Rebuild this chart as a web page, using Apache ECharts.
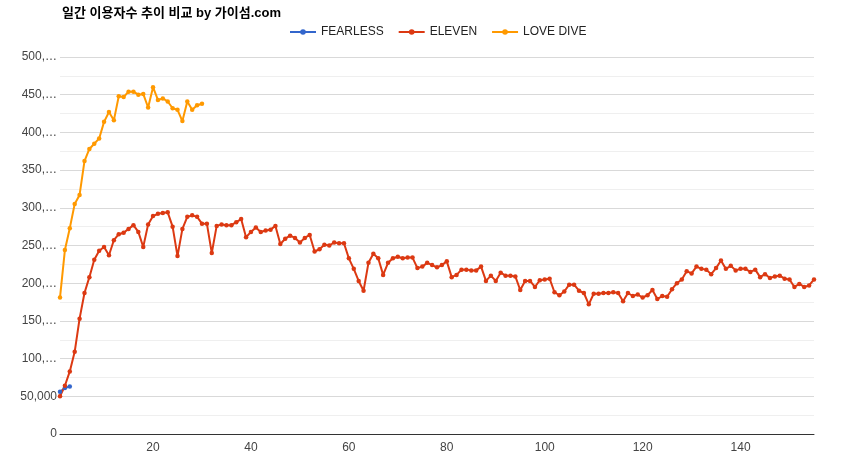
<!DOCTYPE html>
<html>
<head>
<meta charset="utf-8">
<script src="https://cdn.jsdelivr.net/npm/echarts@6/dist/echarts.min.js"></script>
<style>
html,body{margin:0;padding:0;background:#fff;}
#c{width:850px;height:464px;}
</style>
</head>
<body>
<div id="c"></div>
<script>
const title = '일간 이용자수 추이 비교 by 가이섬.com';
const days = Array.from({length: 155}, (_, i) => String(i + 1));
const fearless = [56000, 61000, 63000];
const eleven = [
  50, 64, 83, 109, 153, 187, 208, 231, 243, 248,
  237, 257, 265, 267, 272, 277, 268, 248, 278, 289,
  292, 293, 294, 275, 236, 272, 288, 290, 288, 279,
  279, 240, 276, 278, 277, 277, 281, 285, 261, 268,
  274, 268, 270, 271, 276, 252, 259, 263, 260, 254,
  260, 264, 242, 245, 251, 250, 254, 253, 253, 233,
  219, 203, 190, 227, 239, 233, 211, 227, 233, 235,
  233, 234, 234, 220, 222, 227, 224, 221, 224, 229,
  208, 211, 218, 218, 217, 217, 222, 203, 210, 203,
  214, 210, 210, 209, 191, 203, 203, 195, 204, 205,
  206, 188, 184, 189, 198, 198, 190, 187, 172, 186,
  186, 187, 187, 188, 187, 176, 187, 183, 185, 181,
  184, 191, 179, 183, 182, 192, 200, 205, 216, 213,
  222, 219, 218, 212, 220, 230, 219, 223, 217, 219,
  219, 215, 218, 208, 212, 207, 209, 210, 206, 205,
  195, 199, 195, 197, 205
].map(v => v * 1000);
const loveDive = [
  181, 244, 273, 305, 317, 362, 378, 385, 392, 414,
  427, 416, 448, 447, 454, 454, 450, 451, 433, 460,
  443, 445, 441, 432, 430, 415, 441, 430, 436, 438
].map(v => v * 1000);
const yTickValues = [0, 50000, 100000, 150000, 200000, 250000, 300000, 350000, 400000, 450000, 500000];
const yTickLabels = ['0', '50,000', '100,…', '150,…', '200,…', '250,…', '300,…', '350,…', '400,…', '450,…', '500,…'];
const xTickLabels = ['20', '40', '60', '80', '100', '120', '140'];

const chart = echarts.init(document.getElementById('c'), null, {renderer: 'canvas'});
const mk = (name, data, color) => ({
  name, type: 'line', data, color,
  symbol: 'circle', symbolSize: 4.5, showSymbol: true, showAllSymbol: true,
  lineStyle: {width: 2, color},
  itemStyle: {color},
  animation: false
});
chart.setOption({
  animation: false,
  title: {
    text: title, left: 57, top: 2,
    textStyle: {fontFamily: 'Arial, "Noto Sans CJK KR", sans-serif', fontSize: 13, fontWeight: 'bold', color: '#000'}
  },
  legend: {
    top: 21, left: 284, itemGap: 14, itemWidth: 26, itemHeight: 7,
    textStyle: {fontFamily: 'Arial, sans-serif', fontSize: 12, color: '#222'},
    data: ['FEARLESS', 'ELEVEN', 'LOVE DIVE']
  },
  grid: {left: 60, right: 36, top: 57, bottom: 30, containLabel: false},
  xAxis: {
    type: 'category', data: days, boundaryGap: false,
    axisLine: {lineStyle: {color: '#333', width: 1}},
    axisTick: {show: false},
    axisLabel: {
      interval: (i, v) => xTickLabels.includes(v),
      color: '#444', fontFamily: 'Arial, sans-serif', fontSize: 12, margin: 8
    },
    splitLine: {show: false}
  },
  yAxis: {
    type: 'value', min: 0, max: 500000, interval: 50000,
    axisLine: {show: false}, axisTick: {show: false},
    axisLabel: {
      color: '#444', fontFamily: 'Arial, sans-serif', fontSize: 12, margin: 3,
      formatter: v => { const i = yTickValues.indexOf(v); return i >= 0 ? yTickLabels[i] : ''; }
    },
    splitLine: {lineStyle: {color: '#d9d9d9', width: 1}},
    minorTick: {show: false, splitNumber: 2},
    minorSplitLine: {show: true, lineStyle: {color: '#efefef', width: 1}}
  },
  series: [
    mk('FEARLESS', fearless, '#3366cc'),
    mk('ELEVEN', eleven, '#dc3912'),
    mk('LOVE DIVE', loveDive, '#ff9900')
  ]
});
</script>
</body>
</html>
